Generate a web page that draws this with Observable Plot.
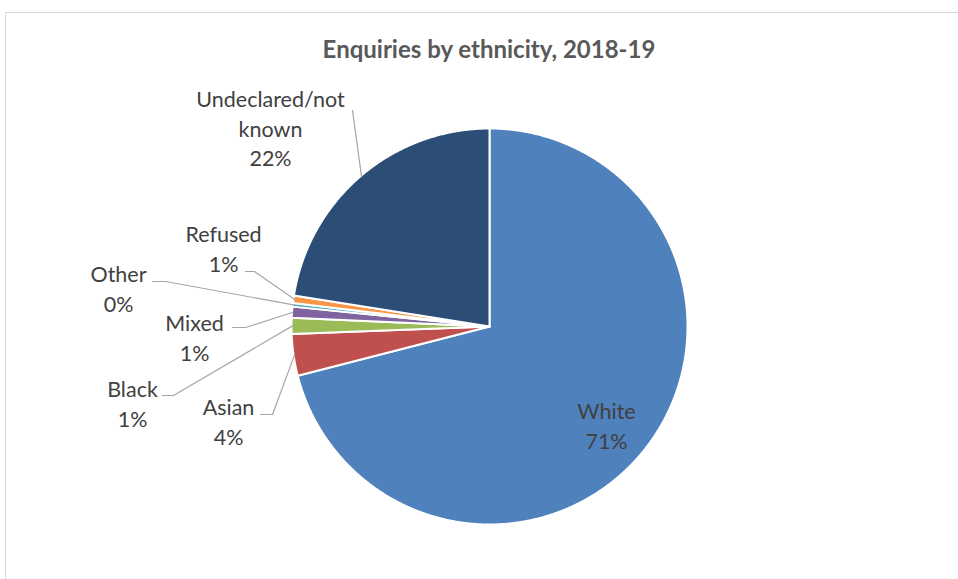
<!DOCTYPE html>
<html>
<head>
<meta charset="utf-8">
<script src="https://cdn.jsdelivr.net/npm/d3@7"></script>
<script src="https://cdn.jsdelivr.net/npm/@observablehq/plot@0.6"></script>
<style>
  html, body { margin: 0; padding: 0; background: #fff; overflow: hidden; }
  #wrap { position: relative; width: 958px; height: 579px; }
  #frame { position: absolute; left: 5px; top: 12px; width: 1200px; height: 1200px; border: 1px solid #d9d9d9; box-sizing: border-box; }
  #title { position: absolute; left: 0; width: 978px; top: 37px; text-align: center; line-height: 24px;
           font-family: Lato, "Open Sans", sans-serif; font-weight: 700; font-size: 24px; color: #595959; }
  #chart { position: absolute; left: 0; top: 0; }
</style>
</head>
<body>
<div id="wrap">
  <div id="frame"></div>
  <div id="chart"></div>
  <div id="title">Enquiries by ethnicity, 2018-19</div>
</div>
<script>
// ---- data (clockwise from 12 o'clock) ----
const categories = ["White", "Asian", "Black", "Mixed", "Other", "Refused", "Undeclared/not known"];
const shares     = [71.0, 3.4, 1.3, 0.9, 0.3, 0.6, 22.5];
const pctLabels  = ["71%", "4%", "1%", "1%", "0%", "1%", "22%"];
const labelText  = ["White", "Asian", "Black", "Mixed", "Other", "Refused", "Undeclared/not\nknown"];
const colors     = ["#4F81BD", "#C0504D", "#9BBB59", "#8064A2", "#4BACC6", "#F79646", "#2C4D75"];

// ---- layout (pixels relative to pie centre, converted to pie units) ----
const W = 958, H = 579, CX = 489, CY = 326, R = 198;
// text centre, leader start, leader elbow (null = no leader)
const labelLayout = {
  "White":                {t: [117, 98],  s: null},
  "Asian":                {t: [-261, 94],  s: [-229, 88],  e: [-217, 88]},
  "Black":                {t: [-357, 76],  s: [-327, 69],  e: [-316, 69]},
  "Mixed":                {t: [-295, 10],  s: [-257, 1],   e: [-244, 1]},
  "Other":                {t: [-371, -39], s: [-337, -45], e: [-324, -45]},
  "Refused":              {t: [-266, -79], s: [-244, -55], e: [-235, -55]},
  "Undeclared/not known": {t: [-219, -199], s: [-137, -216], e: [-137, -216]}
};

const px = ([dx, dy]) => ({x: dx / R, y: -dy / R});

// ---- pie geometry via d3.pie ----
const arcs = d3.pie().sort(null).value(d => d.v)(categories.map((c, i) => ({c, v: shares[i]})));
const slicePts = [];
arcs.forEach(a => {
  const c = a.data.c;
  slicePts.push({c, x: 0, y: 0});
  const n = Math.max(2, Math.ceil((a.endAngle - a.startAngle) / 0.005));
  for (let k = 0; k <= n; k++) {
    const t = a.startAngle + (a.endAngle - a.startAngle) * k / n;
    slicePts.push({c, x: Math.sin(t), y: Math.cos(t)});
  }
});

// labels
const texts = [];
const leaders = [];
arcs.forEach((a, i) => {
  const c = a.data.c;
  const L = labelLayout[c];
  const p = px(L.t);
  texts.push({c, x: p.x, y: p.y, label: labelText[i] + "\n" + pctLabels[i]});
  if (L.s) {
    const mid = (a.startAngle + a.endAngle) / 2;
    const s = px(L.s), e = px(L.e);
    leaders.push({c, x: s.x, y: s.y});
    leaders.push({c, x: e.x, y: e.y});
    leaders.push({c, x: Math.sin(mid) * 0.995, y: Math.cos(mid) * 0.995});
  }
});

const chart = Plot.plot({
  width: W, height: H,
  margin: 0,
  x: {domain: [-CX / R, (W - CX) / R], axis: null},
  y: {domain: [-(H - CY) / R, CY / R], axis: null},
  color: {domain: categories, range: colors},
  style: {fontFamily: "Lato, 'Open Sans', sans-serif", background: "transparent"},
  marks: [
    Plot.line(slicePts, {x: "x", y: "y", z: "c", fill: "c", stroke: "#fff", strokeWidth: 2, strokeLinejoin: "round", curve: "linear-closed"}),
    Plot.line(leaders, {x: "x", y: "y", z: "c", stroke: "#a6a6a6", strokeWidth: 1.2}),
    Plot.text(texts, {x: "x", y: "y", text: "label", fill: "#404040", fontSize: 21.5, lineHeight: 1.37, lineAnchor: "middle", textAnchor: "middle"})
  ]
});
document.getElementById("chart").appendChild(chart);
</script>
</body>
</html>
